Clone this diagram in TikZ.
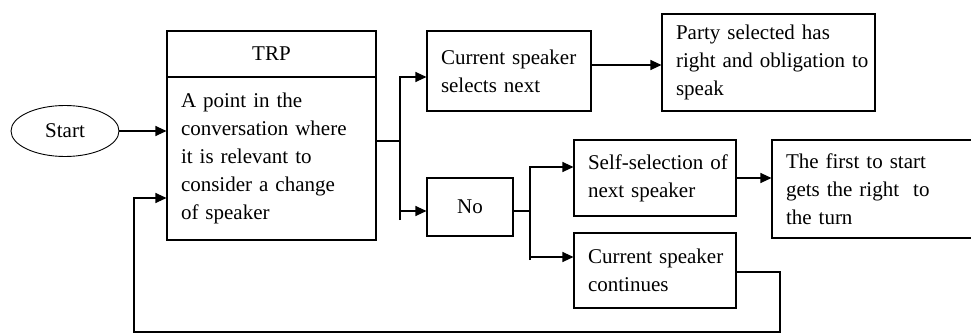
\documentclass[tikz,border=0pt]{standalone}
\usepackage{fontspec}
\setmainfont{Liberation Serif}
\usetikzlibrary{arrows.meta,positioning,shapes.geometric}

\begin{document}
\begin{tikzpicture}[
  x=1pt, y=-1pt,
  box/.style={draw, line width=1.1pt, inner xsep=14pt, inner ysep=4pt, font=\fontsize{21}{28}\selectfont, align=left},
  arr/.style={-{Triangle[length=11pt,width=10pt]}, line width=1.1pt},
  line/.style={line width=1.1pt},
]
  \useasboundingbox (0,0) rectangle (971,334);

  \node[ellipse, draw, line width=0.9pt, minimum width=108pt, minimum height=51pt, font=\fontsize{21}{28}\selectfont] (start) at (65,131) {Start};

  \node[box, align=center, minimum width=209pt, minimum height=46pt] (trp) at (271.5,54) {TRP};
  \node[box, text width=181pt, minimum height=163pt] (trpbody) at (271.5,158.5) {A point in the\\ conversation where\\ it is relevant to\\ consider a change\\ of speaker};

  \node[box, text width=136pt, minimum height=80pt] (cur) at (509,71) {\mbox{Current speaker}\\ selects next};
  \node[box, text width=185pt, minimum height=97pt] (party) at (768.5,62.5) {Party selected has\\ \mbox{right\ and obligation to}\\ speak};

  \node[box, align=center, minimum width=86pt, minimum height=58pt] (no) at (470,207) {No};
  \node[box, text width=134pt, minimum height=76pt] (self) at (655,178) {\mbox{Self-selection of}\\ next speaker};
  \node[box, text width=177pt, minimum height=98pt] (first) at (874.5,189) {The first to start\\ \mbox{gets the right\ \ to}\\ the turn};
  \node[box, text width=134pt, minimum height=75pt] (cont) at (655,270.5) {\mbox{Current speaker}\\ continues};

  \coordinate (fork1) at (400,141);
  \coordinate (fork2) at (530,211);
  \coordinate (loop) at (134,332);

  \draw[arr] (start) -- (start -| trpbody.west);
  \draw[line] (trpbody.east |- fork1) -- (fork1);
  \draw[arr] (fork1 |- 0,220) |- (cur.west |- 0,77);
  \draw[arr] (fork1) |- (no.west |- 0,211);
  \draw[arr] (cur.east |- 0,65) -- (party.west |- 0,65);

  \draw[line] (no.east |- fork2) -- (fork2);
  \draw[arr] (fork2 |- 0,260) |- (self.west |- 0,167);
  \draw[arr] (fork2) |- (cont.west |- 0,257);
  \draw[arr] (self.east |- 0,178) -- (first.west |- 0,178);

  \draw[arr] (cont.east |- 0,272) -- (780,272) |- (loop) |- (trpbody.west |- 0,198);
\end{tikzpicture}
\end{document}
